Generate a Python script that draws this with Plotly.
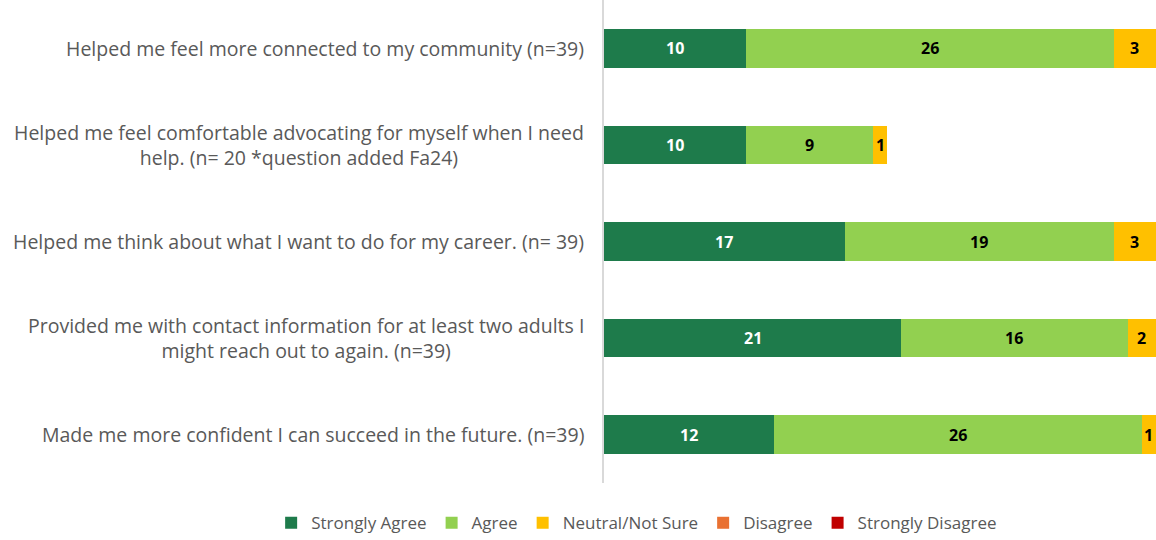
import plotly.graph_objects as go

categories = [
    "Helped me feel more connected to my community (n=39)",
    "Helped me feel comfortable advocating for myself when I need<br>help. (n= 20 *question added Fa24)",
    "Helped me think about what I want to do for my career. (n= 39)",
    "Provided me with contact information for at least two adults I<br>might reach out to again. (n=39)",
    "Made me more confident I can succeed in the future. (n=39)",
]
series_names = ["Strongly Agree", "Agree", "Neutral/Not Sure", "Disagree", "Strongly Disagree"]
strongly_agree = [10, 10, 17, 21, 12]
agree = [26, 9, 19, 16, 26]
neutral = [3, 1, 3, 2, 1]
disagree = [0, 0, 0, 0, 0]
strongly_disagree = [0, 0, 0, 0, 0]

series_values = [strongly_agree, agree, neutral, disagree, strongly_disagree]
colors = ["#1E7B4B", "#92D050", "#FFC000", "#E97132", "#C00000"]
text_colors = ["white", "black", "black", "black", "white"]

FONT = "Open Sans"
ids = list(range(len(categories)))

fig = go.Figure()
for name, vals, col in zip(series_names, series_values, colors):
    fig.add_trace(go.Bar(
        name=name,
        y=ids,
        x=vals,
        orientation="h",
        marker=dict(color=col, line=dict(width=0)),
        width=0.4,
        textposition="none",
        hoverinfo="skip",
    ))

# segment value labels, centred on each stacked segment
base = [0] * len(categories)
for vals, tcol in zip(series_values, text_colors):
    for i, v in enumerate(vals):
        if v:
            fig.add_annotation(
                x=base[i] + v / 2, y=i, xref="x", yref="y",
                text=str(v), showarrow=False,
                xanchor="center", yanchor="middle",
                font=dict(family=FONT, size=16, color=tcol, weight="bold"),
            )
        base[i] += v

for i, cat in enumerate(categories):
    fig.add_annotation(
        x=0, xref="paper", xanchor="right", xshift=-18,
        y=i, yref="y", yanchor="middle",
        text=cat, showarrow=False, align="center",
        font=dict(family=FONT, size=19.5, color="#595959"),
    )

fig.update_layout(
    barmode="stack",
    width=1156, height=540,
    autosize=False,
    margin=dict(l=604, r=0, t=0, b=57, autoexpand=False),
    plot_bgcolor="white",
    paper_bgcolor="white",
    font=dict(family=FONT, color="#595959"),
    xaxis=dict(range=[0, 39], showticklabels=False, showgrid=False, zeroline=False,
               showline=False, ticks="", fixedrange=True),
    yaxis=dict(range=[4.5, -0.5], showticklabels=False, showgrid=False, zeroline=False,
               showline=True, linecolor="#D9D9D9", linewidth=2, ticks="", fixedrange=True),
    showlegend=True,
    legend=dict(orientation="h", xref="paper", yref="paper",
                x=-0.603, xanchor="left", y=-0.046, yanchor="top",
                font=dict(family=FONT, size=17, color="#595959"),
                traceorder="normal", itemwidth=30),
)

post = ("document.body.style.margin='0';document.body.style.padding='0';"
        "var gd=document.getElementById('{plot_id}');"
        "Plotly.relayout(gd,{width:1156,height:540});")

fig.write_html("out.html", config={"responsive": False, "displayModeBar": False},
               post_script=post)
